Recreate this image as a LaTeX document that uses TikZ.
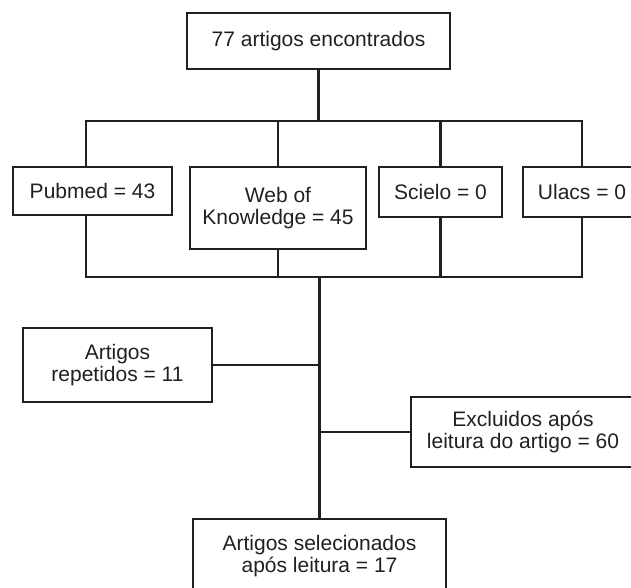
\documentclass[tikz,border=0pt]{standalone}
\usepackage{fontspec}
\setmainfont{Liberation Sans}
\usepackage{tikz}
\usetikzlibrary{positioning}
\definecolor{ink}{HTML}{231F20}

\begin{document}
\begin{tikzpicture}[x=1pt,y=-1pt,line width=2.3pt,draw=ink,
    box/.style={rectangle,draw=ink,text=ink,inner sep=0pt,align=center,
        font=\fontsize{21}{21.7}\selectfont}]
    \useasboundingbox (0,0) rectangle (631,588);
    \clip (0,0) rectangle (631,588);
    % boxes
    \node[box] (total) at (318.5,41) [minimum width=263pt, minimum height=56pt] {77 artigos encontrados};
    \node[box] (pubmed) at (92.5,191) [minimum width=159pt, minimum height=48pt] {Pubmed = 43};
    \node[box] (wok) at (278,208) [minimum width=176pt, minimum height=82pt] {Web of\\Knowledge = 45};
    \node[box] (scielo) at (440.5,192) [minimum width=123pt, minimum height=50pt] {Scielo = 0};
    \node[box] (ulacs) at (582,192) [minimum width=118pt, minimum height=50pt] {Ulacs = 0};
    \node[box] (rep) at (117.5,365) [minimum width=189pt, minimum height=74pt] {Artigos\\repetidos = 11};
    \node[box] (exc) at (523,432) [minimum width=224pt, minimum height=70pt] {Excluidos após\\leitura do artigo = 60};
    \node[box] (sel) at (319.5,556) [minimum width=253pt, minimum height=74pt] {Artigos selecionados\\após leitura = 17};
    \coordinate (upbus) at (0,121);
    \coordinate (lowbus) at (0,277);
    % upper bus
    \draw (total.south) -- (total.south |- upbus);
    \draw ([xshift=-6.5pt]pubmed.north) |- (ulacs.north |- upbus) -- (ulacs.north);
    \draw (wok.north) -- (wok.north |- upbus);
    \draw (scielo.north) -- (scielo.north |- upbus);
    % lower bus
    \draw ([xshift=-6.5pt]pubmed.south) |- (ulacs.south |- lowbus) -- (ulacs.south);
    \draw (wok.south) -- (wok.south |- lowbus);
    \draw (scielo.south) -- (scielo.south |- lowbus);
    % trunk
    \draw (sel.north |- lowbus) -- (sel.north);
    \draw (rep.east) -- (rep.east -| sel.north);
    \draw (exc.west) -- (exc.west -| sel.north);
\end{tikzpicture}
\end{document}
